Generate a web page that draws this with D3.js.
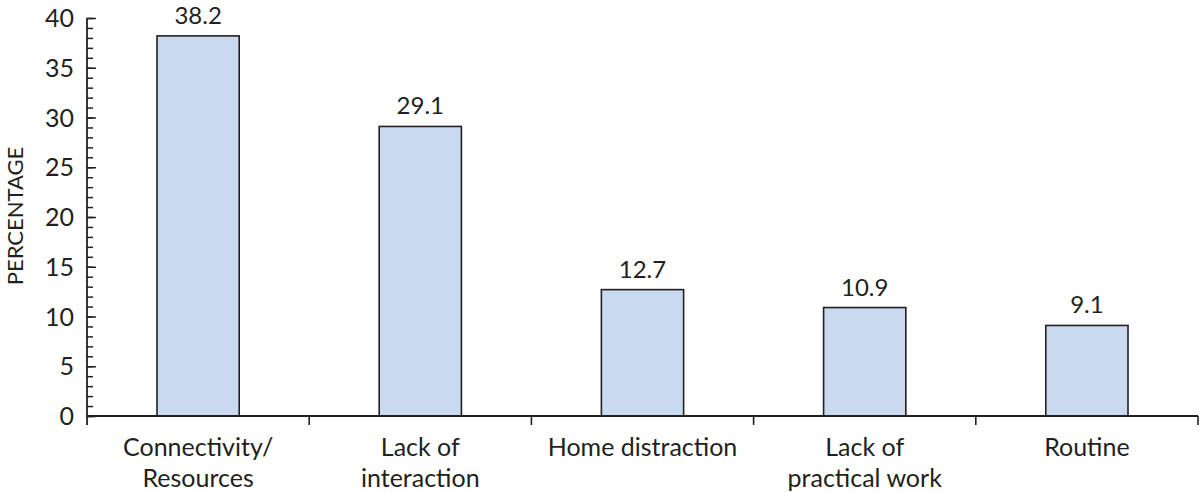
<!DOCTYPE html>
<html lang="en">
<head>
  <meta charset="UTF-8">
  <title>Percentage by problem</title>
  <style>
    body {
      margin: 0;
      background: #fff;
    }
    svg {
      display: block;
      font-family: Lato, "Open Sans", sans-serif;
    }
    .tick-label, .value-label, .cat-label, .axis-title {
      fill: #231f20;
    }
  </style>
</head>
<body>
  <div id="chart"></div>

  <script src="https://d3js.org/d3.v7.min.js"></script>
  <script>
    // Categories, split into lines as printed under the axis
    const categories = [
      "Connectivity/ Resources",
      "Lack of interaction",
      "Home distraction",
      "Lack of practical work",
      "Routine"
    ];
    const categoryLines = [
      ["Connectivity/", "Resources"],
      ["Lack of", "interaction"],
      ["Home distraction"],
      ["Lack of", "practical work"],
      ["Routine"]
    ];
    const values = [38.2, 29.1, 12.7, 10.9, 9.1];
    const yTicks = [0, 5, 10, 15, 20, 25, 30, 35, 40];

    const W = 1200, H = 492;
    const margin = { top: 18, right: 2, bottom: 76, left: 87 };
    const width = W - margin.left - margin.right;
    const height = H - margin.top - margin.bottom;
    const ink = "#231f20";

    const svg = d3.select("#chart")
      .append("svg")
      .attr("width", W)
      .attr("height", H);

    const g = svg.append("g")
      .attr("transform", `translate(${margin.left},${margin.top})`);

    const x = d3.scaleBand()
      .domain(categories)
      .range([0, width])
      .paddingInner(0.63)
      .paddingOuter(0.315);

    const band = d3.scaleBand()
      .domain(categories)
      .range([0, width]);

    const y = d3.scaleLinear()
      .domain([0, 40])
      .range([height, 0]);

    // Bars
    g.selectAll(".bar")
      .data(values)
      .enter()
      .append("rect")
      .attr("class", "bar")
      .attr("x", (d, i) => x(categories[i]))
      .attr("width", x.bandwidth())
      .attr("y", d => y(d))
      .attr("height", d => y(0) - y(d))
      .attr("fill", "#c9daf0")
      .attr("stroke", ink)
      .attr("stroke-width", 1.6);

    // Value labels
    g.selectAll(".value-label")
      .data(values)
      .enter()
      .append("text")
      .attr("class", "value-label")
      .attr("x", (d, i) => x(categories[i]) + x.bandwidth() / 2)
      .attr("y", d => y(d) - 12)
      .attr("text-anchor", "middle")
      .style("font-size", "24px")
      .text(d => d.toFixed(1));

    // Y axis: major ticks every 5, minor every 1, both pointing inwards
    const minorTicks = d3.range(0, 41, 1);
    const yAxis = g.append("g").attr("class", "y-axis");
    yAxis.call(d3.axisRight(y).tickValues(minorTicks).tickSize(6).tickFormat(""))
      .call(a => a.select(".domain").remove())
      .call(a => a.selectAll(".tick line").attr("stroke", ink).attr("stroke-width", 1.5));
    yAxis.append("g")
      .call(d3.axisRight(y).tickValues(yTicks).tickSize(9).tickFormat(""))
      .call(a => a.select(".domain").remove())
      .call(a => a.selectAll(".tick line").attr("stroke", ink).attr("stroke-width", 1.5));

    // Y tick labels
    g.selectAll(".tick-label")
      .data(yTicks)
      .enter()
      .append("text")
      .attr("class", "tick-label")
      .attr("x", -13)
      .attr("y", d => y(d))
      .attr("dy", "0.36em")
      .attr("text-anchor", "end")
      .style("font-size", "25px")
      .text(d => d);

    // Axis lines
    g.append("line")
      .attr("x1", 0).attr("x2", 0)
      .attr("y1", y(40)).attr("y2", height + 9)
      .attr("stroke", ink).attr("stroke-width", 1.8);
    g.append("line")
      .attr("x1", 0).attr("x2", width)
      .attr("y1", height).attr("y2", height)
      .attr("stroke", ink).attr("stroke-width", 1.8);

    // Category separator ticks below the x axis
    g.selectAll(".sep")
      .data(categories)
      .enter()
      .append("line")
      .attr("class", "sep")
      .attr("x1", d => band(d) + band.bandwidth())
      .attr("x2", d => band(d) + band.bandwidth())
      .attr("y1", height)
      .attr("y2", height + 9)
      .attr("stroke", ink)
      .attr("stroke-width", 1.6);

    // Category labels
    const cat = g.selectAll(".cat-label")
      .data(categories)
      .enter()
      .append("text")
      .attr("class", "cat-label")
      .attr("text-anchor", "middle")
      .attr("transform", d => `translate(${band(d) + band.bandwidth() / 2},${height + 40})`)
      .style("font-size", "25px");
    cat.each(function(d, i) {
      d3.select(this).selectAll("tspan")
        .data(categoryLines[i])
        .enter()
        .append("tspan")
        .attr("x", 0)
        .attr("dy", (t, j) => j === 0 ? 0 : 31)
        .text(t => t);
    });

    // Y axis title
    svg.append("text")
      .attr("class", "axis-title")
      .attr("transform", `translate(23,${216}) rotate(-90)`)
      .attr("text-anchor", "middle")
      .style("font-size", "22px")
      .text("PERCENTAGE");
  </script>
</body>
</html>
